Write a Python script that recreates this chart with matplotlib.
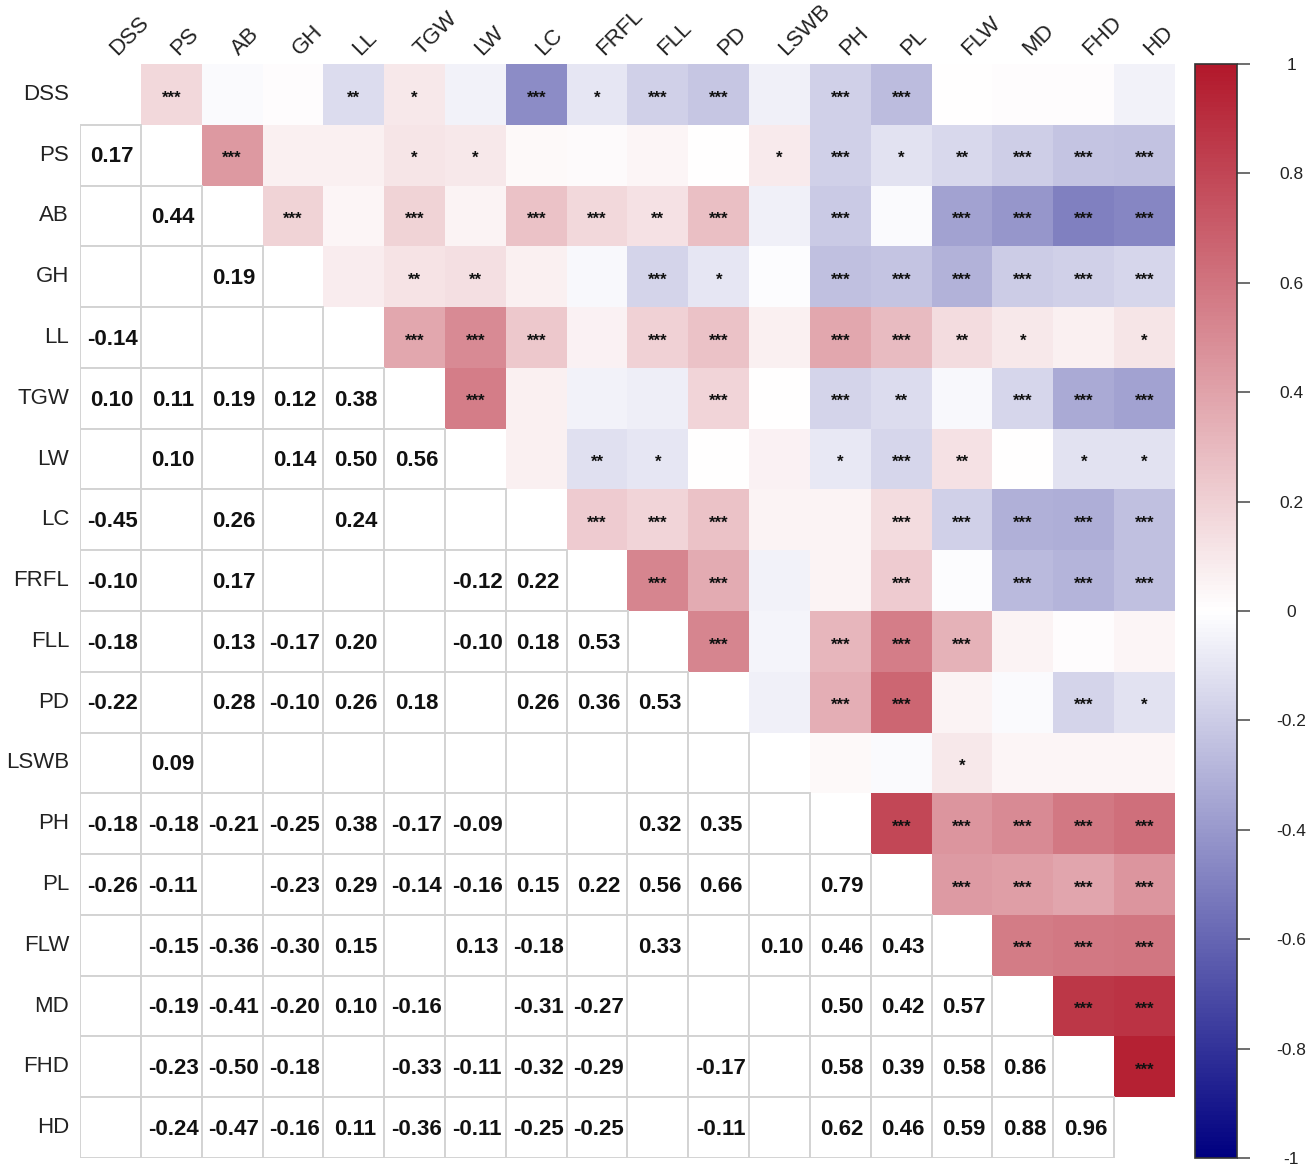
import numpy as np
import matplotlib
matplotlib.use("Agg")
import matplotlib.pyplot as plt
from matplotlib.colors import LinearSegmentedColormap, Normalize
from matplotlib.patches import Rectangle
from matplotlib.cm import ScalarMappable

plt.rcParams['font.family'] = ['Liberation Sans', 'DejaVu Sans']

labels = ["DSS", "PS", "AB", "GH", "LL", "TGW", "LW", "LC", "FRFL", "FLL",
          "PD", "LSWB", "PH", "PL", "FLW", "MD", "FHD", "HD"]

# lower-triangle correlation rows (row i, columns 0..i-1)
corr_rows = [
    [],
    [0.17],
    [-0.02, 0.44],
    [0.01, 0.07, 0.19],
    [-0.14, 0.07, 0.04, 0.08],
    [0.10, 0.11, 0.19, 0.12, 0.38],
    [-0.05, 0.10, 0.05, 0.14, 0.50, 0.56],
    [-0.45, 0.03, 0.26, 0.07, 0.24, 0.07, 0.07],
    [-0.10, 0.02, 0.17, -0.03, 0.06, -0.05, -0.12, 0.22],
    [-0.18, 0.04, 0.13, -0.17, 0.20, -0.07, -0.10, 0.18, 0.53],
    [-0.22, 0.00, 0.28, -0.10, 0.26, 0.18, 0.00, 0.26, 0.36, 0.53],
    [-0.06, 0.09, -0.06, -0.01, 0.07, 0.00, 0.06, 0.05, -0.05, -0.04, -0.06],
    [-0.18, -0.18, -0.21, -0.25, 0.38, -0.17, -0.09, 0.05, 0.05, 0.32, 0.35, 0.03],
    [-0.26, -0.11, -0.02, -0.23, 0.29, -0.14, -0.16, 0.15, 0.22, 0.56, 0.66, -0.02, 0.79],
    [0.00, -0.15, -0.36, -0.30, 0.15, -0.03, 0.13, -0.18, -0.01, 0.33, 0.05, 0.10, 0.46, 0.43],
    [0.01, -0.19, -0.41, -0.20, 0.10, -0.16, 0.00, -0.31, -0.27, 0.05, -0.02, 0.04, 0.50, 0.42, 0.57],
    [0.01, -0.23, -0.50, -0.18, 0.07, -0.33, -0.11, -0.32, -0.29, 0.01, -0.17, 0.04, 0.58, 0.39, 0.58, 0.86],
    [-0.05, -0.24, -0.47, -0.16, 0.11, -0.36, -0.11, -0.25, -0.25, 0.04, -0.11, 0.04, 0.62, 0.46, 0.59, 0.88, 0.96],
]

# significance stars (same layout as corr_rows)
star_rows = [
    [],
    ["***"],
    ["", "***"],
    ["", "", "***"],
    ["**", "", "", ""],
    ["*", "*", "***", "**", "***"],
    ["", "*", "", "**", "***", "***"],
    ["***", "", "***", "", "***", "", ""],
    ["*", "", "***", "", "", "", "**", "***"],
    ["***", "", "**", "***", "***", "", "*", "***", "***"],
    ["***", "", "***", "*", "***", "***", "", "***", "***", "***"],
    ["", "*", "", "", "", "", "", "", "", "", ""],
    ["***", "***", "***", "***", "***", "***", "*", "", "", "***", "***", ""],
    ["***", "*", "", "***", "***", "**", "***", "***", "***", "***", "***", "", "***"],
    ["", "**", "***", "***", "**", "", "**", "***", "", "***", "", "*", "***", "***"],
    ["", "***", "***", "***", "*", "***", "", "***", "***", "", "", "", "***", "***", "***"],
    ["", "***", "***", "***", "", "***", "*", "***", "***", "", "***", "", "***", "***", "***", "***"],
    ["", "***", "***", "***", "*", "***", "*", "***", "***", "", "*", "", "***", "***", "***", "***", "***"],
]

cbar_ticks = [1, 0.8, 0.6, 0.4, 0.2, 0, -0.2, -0.4, -0.6, -0.8, -1]

n = len(labels)
cmap = LinearSegmentedColormap.from_list("bwr_corr", ["#000080", "#FFFFFF", "#B2182B"])
norm = Normalize(vmin=-1, vmax=1)

W, H = 1309, 1172
fig = plt.figure(figsize=(W / 100, H / 100), dpi=100)
gx0, gx1, gy0, gy1 = 80, 1175, 64, 1158
ax = fig.add_axes([gx0 / W, 1 - gy1 / H, (gx1 - gx0) / W, (gy1 - gy0) / H])
ax.set_xlim(-0.5, n - 0.5)
ax.set_ylim(n - 0.5, -0.5)
ax.axis("off")

# upper triangle: coloured cells (transposed values) with stars
upper = np.full((n, n), np.nan)
for i in range(n):
    for j in range(i):
        upper[j, i] = corr_rows[i][j]
masked = np.ma.masked_invalid(upper)
ax.pcolormesh(np.arange(n + 1) - 0.5, np.arange(n + 1) - 0.5, masked,
              cmap=cmap, norm=norm, edgecolors="none", shading="flat")

for i in range(n):
    for j in range(i):
        s = star_rows[i][j]
        if s:
            ax.text(i, j + 0.13, s, ha="center", va="baseline", fontsize=12,
                    fontweight="bold", color="#111111")

# lower triangle: white boxed cells with numbers
for i in range(n):
    for j in range(i):
        ax.add_patch(Rectangle((j - 0.5, i - 0.5), 1, 1, facecolor="white",
                               edgecolor="#D3D3D3", linewidth=1.4))
        if star_rows[i][j]:
            ax.text(j + 0.03, i + 0.03, f"{corr_rows[i][j]:.2f}", ha="center", va="center",
                    fontsize=16, fontweight="bold", color="#111111")

# labels
for k, lab in enumerate(labels):
    ax.text(-0.68, k, lab, ha="right", va="center", fontsize=16, color="#222222")
    ax.text(k + 0.17, -0.57, lab, ha="left", va="bottom", rotation=45,
            rotation_mode="anchor", fontsize=16, color="#222222")

# colorbar
cax = fig.add_axes([1195 / W, 1 - gy1 / H, 42 / W, (gy1 - gy0) / H])
sm = ScalarMappable(norm=norm, cmap=cmap)
cb = fig.colorbar(sm, cax=cax, ticks=cbar_ticks)
cb.outline.set_edgecolor("#333333")
cb.outline.set_linewidth(1.2)
cax.tick_params(axis="y", direction="out", length=9, width=1.2, color="#555555",
                pad=30, labelsize=12.5, labelcolor="#222222")
cax.set_yticklabels([f"{t:g}" for t in cbar_ticks])
for t in cax.get_yticklabels():
    t.set_horizontalalignment("center")

fig.savefig("out.png", dpi=100, facecolor="white")
